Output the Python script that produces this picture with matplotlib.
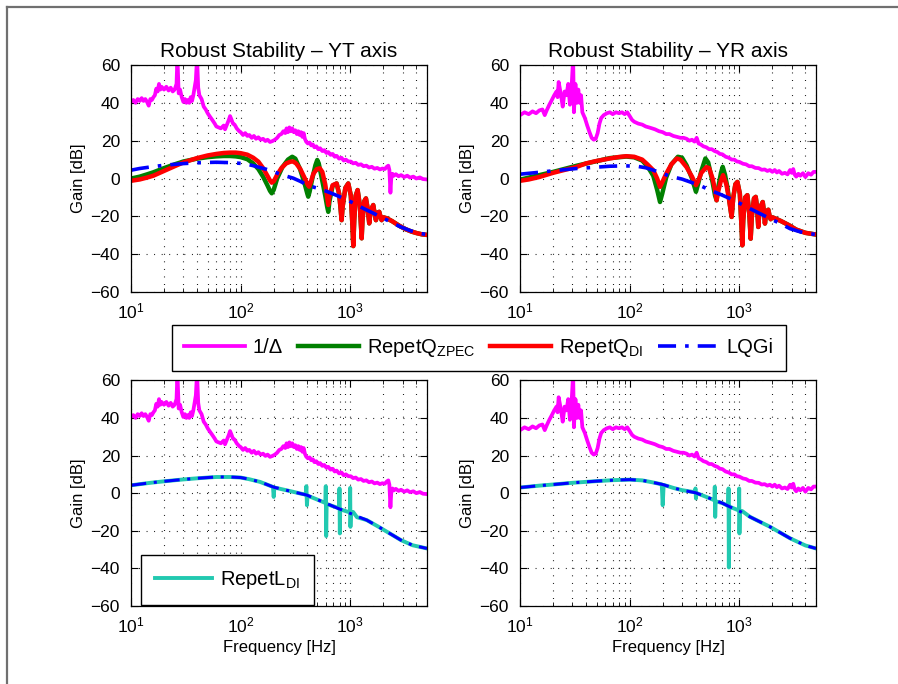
import numpy as np
import matplotlib.pyplot as plt
from matplotlib.lines import Line2D
from matplotlib.ticker import LogLocator, NullFormatter

plt.rcParams['font.family'] = ['Liberation Sans', 'DejaVu Sans']
plt.rcParams['mathtext.fontset'] = 'custom'
plt.rcParams['mathtext.rm'] = 'Liberation Sans'
plt.rcParams['mathtext.it'] = 'Liberation Sans:italic'

# ---- 1/Delta, YT axis ----
yt_delta_f = [10, 10.5, 11, 11.5, 12, 12.5, 13, 13.5, 14, 14.5, 15, 15.5, 16, 16.5, 17, 17.5, 18, 18.5,
              19, 20, 21, 22, 23, 24, 25, 26, 26.5, 27.2, 28, 29, 30, 31, 32, 33, 34, 35, 36, 37, 38,
              39, 40, 41, 42, 44, 46, 48, 50, 52, 55, 58, 60, 63, 66, 70, 72, 75, 78, 80, 82, 85, 88,
              92, 97, 100, 105, 110, 115, 120, 126, 132, 138, 145, 152, 160, 168, 176, 185, 195, 205,
              215, 225, 235, 245, 255, 262, 270, 278, 286, 295, 305, 315, 325, 335, 345, 355, 365, 375,
              385, 395, 410, 425, 440, 455, 470, 490, 510, 530, 555, 580, 605, 630, 660, 690, 720, 750,
              790, 830, 870, 910, 960, 1010, 1060, 1120, 1180, 1250, 1320, 1400, 1480, 1570, 1660, 1760,
              1860, 1960, 2060, 2150, 2220, 2270, 2320, 2360, 2420, 2500, 2600, 2750, 2900, 3100, 3300,
              3500, 3750, 4000, 4300, 4600, 5000]
yt_delta_db = [40.5, 41.5, 40, 42, 41, 42.5, 41, 42, 40.5, 38.5, 42, 41.5, 43, 44, 47.5, 46, 50, 47,
               48.5, 47, 48.5, 46.5, 48, 46, 47, 50, 64, 45, 47, 43, 40.5, 42, 40, 41.5, 40, 43, 41, 44, 48,
               52, 64, 48, 44, 42, 38, 36.5, 34.5, 33, 31, 29, 27.5, 27, 26.5, 28, 26, 28.5, 31, 33, 31.5, 29, 28.5,
               26.5, 25, 24.5, 23, 24, 22.5, 23, 21.5, 22.5, 21, 21.8, 20.5, 21, 19.8, 20.5, 19.3, 19.8, 20.5,
               21.5, 23, 23.5, 25, 24, 26.5, 24.5, 27, 25, 26.5, 24.5, 25.5, 23.5, 25, 23, 24.5, 22, 24,
               21, 19.5, 18.5, 19, 17.5, 18, 16.5, 17, 15.5, 16, 14.5, 15, 13.5, 14, 12.5, 13, 11.5, 12,
               10.5, 11, 9.5, 10, 9, 9, 8, 8.3, 7.2, 7.5, 6.5, 6.8, 5.8, 6.2, 5.2, 5.6,
               4.8, 5.3, 5, 6.2, 6.8, 4.5, -7.5, 0, 2.5, 1.5, 2.3, 1.2, 1.8, 0.8, 1.5,
               0.5, 1, 0, 0.6, -0.3, -0.5]

# ---- 1/Delta, YR axis ----
yr_delta_f = [10, 11, 12, 13, 14, 15, 16, 16.8, 17.5, 18.5, 19.5, 20.5, 21.5, 22, 22.5, 23.5, 24.5,
              25.5, 26.5, 27.5, 28.5, 29.5, 30.5, 31, 32, 33, 34, 35, 36, 37, 39, 41, 43, 45, 47, 49,
              51, 53, 55, 58, 62, 66, 70, 75, 80, 85, 90, 95, 100, 105, 110, 120, 130, 140, 150, 160,
              170, 185, 200, 215, 230, 250, 270, 290, 310, 330, 350, 370, 390, 408, 425, 445, 470, 500,
              530, 560, 595, 630, 665, 700, 750, 800, 850, 900, 950, 1000, 1080, 1150, 1230, 1300, 1400,
              1500, 1600, 1700, 1800, 1900, 2000, 2100, 2200, 2300, 2450, 2600, 2750, 2900, 3000, 3100,
              3200, 3300, 3450, 3600, 3800, 4000, 4250, 4500, 4750, 5000]
yr_delta_db = [33.5, 35, 34, 35.5, 34.5, 36, 36.5, 33.5, 36, 39, 41.5, 44, 46, 43, 51, 45, 38,
               46, 44, 50, 39, 48, 64, 35, 50, 40, 47, 40, 44, 35, 32, 28, 24.5, 21.5, 20.5, 21,
               24, 29, 32, 33.5, 34.5, 35, 34, 35, 34.5, 35, 34, 35, 33, 31, 30, 29, 28.5, 27.5, 27, 26.5,
               26, 25, 24.5, 23.5, 23.5, 22.5, 22, 21.5, 21.5, 21, 20, 20.5, 19.5, 21.5, 18.5, 18, 17, 16.5,
               15.5, 15.5, 14.5, 14, 13, 12.8, 11.5, 11, 10, 10, 9, 8.8, 7.8, 7.5, 6.5, 6.5, 5.6,
               5.5, 4.6, 4.8, 4, 4.5, 3.5, 4.5, 3.2, 4, 2.5, 3, 2.2, 4.5, 3, 5,
               2, 1, 2.5, 1.5, 2.8, 0.8, 2.8, 2, 3.5, 3.5]

# ---- RepetQ_ZPEC / RepetQ_DI / LQGi, YT axis ----
yt_di_f = [10, 12, 14, 16, 20, 25, 30, 40, 50, 60, 70, 80, 90, 100, 115, 130, 145, 160, 175, 185,
           192, 200, 215, 235, 260, 285, 301, 320, 350, 385, 410, 421, 435, 460, 495, 527, 555, 590,
           615, 629, 645, 690, 750, 790, 815, 832, 850, 900, 957, 1010, 1045, 1064, 1085, 1120, 1165,
           1220, 1250, 1268, 1290, 1340, 1387, 1440, 1487, 1530, 1617, 1670, 1711, 1770, 1835, 1890,
           1928, 2000, 2144, 2400, 2800, 3200, 3600, 4000, 4500, 5000]
yt_di_db = [-1.2, -0.5, 0.5, 1.5, 4, 6.5, 8.5, 10.8, 12.2, 13, 13.5, 13.7, 13.7, 13.4, 12.6, 11, 8.9,
            5.5, 1.5, -1, -2.2, -1.5, 2, 5.5, 8, 8.9, 9, 8, 5, 0, -3.5, -4.3, -2, 2.5, 5, 5.4, 3.5,
            -3, -10, -14, -9, -3.5, -2.6, -8, -16, -22, -15, -5, -2.6, -9, -25, -35.7, -22, -9, -6.1,
            -14, -25, -31.6, -22, -12, -10.5, -16, -23.7, -17, -14, -19, -22, -18, -17.6, -20.5,
            -22, -20.5, -21, -22.5, -25, -26.8, -28, -28.8, -29.5, -29.8]
yt_zpec_f = [10, 12, 14, 16, 20, 25, 30, 40, 50, 60, 70, 80, 90, 100, 115, 130, 145, 160, 175, 185,
             192, 200, 215, 240, 270, 295, 315, 345, 380, 405, 413, 425, 450, 480, 499, 515, 545, 590,
             615, 629, 645, 690, 750]
yt_zpec_db = [0, 1, 2.2, 3.3, 5.5, 7.5, 9, 10.5, 11.3, 11.7, 11.9, 11.9, 11.7, 11.3, 10.2, 8, 5, 1,
              -3.5, -6.5, -7.8, -6, 0, 6, 10, 11.5, 10.5, 5.5, -2, -8, -9.6, -7, 0, 7, 9.8, 8, 1, -9,
              -15, -17.6, -12, -3.8, -2.6]
yt_lqg_f = [10, 12, 15, 20, 30, 40, 50, 60, 80, 100, 115, 130, 150, 173, 200, 230, 263, 301, 350, 400,
            460, 527, 608, 700, 800, 925, 1100, 1315, 1617, 2000, 2400, 2830, 3490, 4315, 5000]
yt_lqg_db = [4.4, 5.3, 6.1, 7, 7.9, 8.3, 8.5, 8.6, 8.4, 8, 7.5, 6.8, 5.8, 4.8, 3.6, 2.3, 1.2, 0.2,
             -1.5, -3.3, -4.5, -5.5, -6.8, -8.2, -9.6, -11.3, -13.3, -15.8, -18.3, -21, -23.3, -25.4,
             -27.5, -29, -29.6]

# ---- RepetQ_ZPEC / RepetQ_DI / LQGi, YR axis ----
yr_di_f = [10, 12, 15, 20, 33, 40, 50, 66, 80, 93, 110, 130, 145, 164, 178, 189, 198, 215, 240, 269,
           290, 330, 370, 402, 420, 450, 500, 530, 570, 600, 620, 640, 680, 710, 760, 800, 850, 880,
           920, 960, 1010, 1045, 1064, 1085, 1130, 1183, 1230, 1268, 1300, 1360, 1409, 1450, 1487,
           1530, 1633, 1680, 1711, 1760, 1837, 1890, 1928, 2000, 2144, 2400, 2800, 3300, 4000, 5000]
yr_di_db = [-1.2, -0.5, 0.8, 3, 6.2, 8, 9.3, 10.6, 11.4, 11.8, 11.5, 10, 7.5, 4.4, 0, -4.4, -2, 2.5,
            7.5, 10.6, 10, 6, 1, -3.5, -1.5, 3, 6, 5.5, 0, -6, -11.5, -7, -1, 1.8, -3, -10, -20.3,
            -10, -3, -1.8, -8, -25, -35.3, -22, -10, -8.8, -18, -31.8, -20, -10.5, -9.7, -15, -25.6,
            -16, -12.4, -18, -23.8, -17.4, -16.5, -20, -21.5, -20.5, -21.2, -22.5, -24.5, -27, -28.7,
            -29.6]
yr_zpec_f = [10, 20, 33, 66, 93, 110, 130, 145, 164, 178, 189, 198, 215, 240, 275, 300, 330, 370, 402,
             420, 450, 490, 520, 570, 600, 620, 640, 680, 705, 740, 780, 850]
yr_zpec_db = [-0.6, 3.5, 6.8, 10.8, 11.6, 11.2, 9.5, 6.5, 1.5, -6, -12.4, -8, 0.5, 7.5, 11.5, 11, 7,
              0, -7, -3, 4, 10.6, 8.5, -2, -9, -11.5, -5, 3, 6.2, 2, -5, -20.3]
yr_lqg_f = [10, 16.3, 20, 33, 50, 66, 90, 116, 140, 164, 200, 233, 300, 355, 450, 541, 680, 822, 1000,
            1250, 1550, 1905, 2400, 2900, 3600, 4300, 5000]
yr_lqg_db = [2.3, 3.5, 4.1, 5.3, 6, 6.5, 6.7, 6.5, 5.7, 4.4, 2.7, 1.2, -0.3, -1.8, -4, -6.2, -8.5,
             -10.6, -13, -15.9, -18.6, -21.2, -24, -26.5, -28.2, -29.2, -29.5]

# ---- RepetL_DI / LQGi, lower row ----
bl_lqg_f = [10, 15, 20, 30, 40, 50, 60, 80, 100, 120, 150, 175, 200, 250, 302, 350, 400, 480, 608,
            750, 925, 1100, 1409, 1800, 2300, 2900, 3700, 5000]
bl_lqg_db = [4.2, 5.5, 6.3, 7.3, 7.9, 8.3, 8.6, 8.6, 8.3, 7.4, 6, 4.5, 3.2, 1.8, 0.7, -0.2, -1, -3,
             -5.5, -7.8, -9.9, -11.8, -14.3, -17.8, -21.5, -25, -27.7, -29.4]
bl_rl_f = [10, 15, 20, 30, 40, 50, 60, 80, 100, 120, 150, 175, 197, 200, 203, 250, 302, 350, 392, 397,
           402, 407, 480, 592, 597, 602, 608, 700, 790, 796, 802, 808, 925, 990, 996, 1002, 1010,
           1060, 1150, 1409, 1800, 2300, 2900, 3700, 5000]
bl_rl_db = [4.2, 5.5, 6.3, 7.3, 7.9, 8.3, 8.6, 8.6, 8.3, 7.4, 6, 4.5, 3.3, -2, 3, 1.8, 0.7, -0.2, -0.8,
            3.7, -6.4, -1.3, -3, -5.2, 3.7, -22.8, -5.8, -7, -8, 2.5, -21.4, -8.6, -9.7, -10.2, 2.8,
            -17.9, -10.8, -10, -12.8, -14.3, -17.8, -21.5, -25, -27.7, -29.4]

br_lqg_f = [10, 15, 20, 30, 50, 70, 100, 130, 160, 200, 250, 300, 400, 541, 700, 822, 1000, 1250,
            1905, 2900, 4000, 5000]
br_lqg_db = [3, 4, 4.6, 5.5, 6.4, 6.9, 7.2, 6.8, 5.8, 4.6, 2.8, 1.6, 0.2, -2.8, -5.3, -7.3, -9.5,
             -12.6, -17.9, -24, -27.8, -29.4]
br_rl_f = [10, 15, 20, 30, 50, 70, 100, 130, 160, 196, 200, 204, 250, 300, 394, 398, 402, 406, 541,
           592, 597, 602, 608, 700, 792, 797, 802, 808, 822, 990, 996, 1002, 1010, 1060, 1250, 1905,
           2900, 4000, 5000]
br_rl_db = [3, 4, 4.6, 5.5, 6.4, 6.9, 7.2, 6.8, 5.8, 4.7, -6.4, 4.4, 2.8, 1.6, 0.5, 2.5, -2.8, 0.1,
            -2.8, -3.8, 3.4, -12.6, -4.3, -5.3, -6.8, 2.5, -39.5, -7, -7.3, -9.2, 2.5, -21.4, -9.8,
            -9.5, -12.6, -17.9, -24, -27.8, -29.4]

MAG = '#ff00ff'
GRN = '#008000'
RED = '#ff0000'
BLU = '#0000ff'
CYN = '#22c9b0'
DASHDOT = (0, (5, 2.5, 1, 2.5))

fig = plt.figure(figsize=(8.98, 6.84), dpi=100)

# panel rectangles [left, bottom, width, height] in figure fractions
rects = [[0.1459, 0.573, 0.3296, 0.332], [0.5791, 0.573, 0.3296, 0.332],
         [0.1459, 0.114, 0.3296, 0.330], [0.5791, 0.114, 0.3296, 0.330]]
axs = [fig.add_axes(r) for r in rects]


def style(ax):
    ax.set_xscale('log')
    ax.set_xlim(10, 5000)
    ax.set_ylim(-60, 60)
    ax.set_yticks(np.arange(-60, 61, 20))
    ax.set_yticklabels([('\u2212%d' % -v) if v < 0 else str(v) for v in range(-60, 61, 20)])
    ax.xaxis.set_minor_locator(LogLocator(base=10, subs=np.arange(2, 10), numticks=20))
    ax.xaxis.set_minor_formatter(NullFormatter())
    ax.tick_params(which='both', direction='in', top=True, right=True, labelsize=12.5)
    ax.tick_params(axis='y', pad=8)
    ax.tick_params(axis='x', pad=7)
    ax.tick_params(which='major', length=5)
    ax.tick_params(which='minor', length=3)
    ax.grid(True, which='major', axis='both', color='k', lw=0.8, linestyle=(0, (0.8, 6)))
    ax.grid(True, which='minor', axis='x', color='k', lw=0.8, linestyle=(0, (0.8, 6)))
    for s in ax.spines.values():
        s.set_linewidth(0.9)
    ax.set_ylabel('Gain [dB]', fontsize=12, labelpad=3)


for ax in axs:
    style(ax)

# top row: robust stability with repetitive controllers
top = [(axs[0], yt_delta_f, yt_delta_db, yt_zpec_f, yt_zpec_db, yt_di_f, yt_di_db, yt_lqg_f, yt_lqg_db),
       (axs[1], yr_delta_f, yr_delta_db, yr_zpec_f, yr_zpec_db, yr_di_f, yr_di_db, yr_lqg_f, yr_lqg_db)]
for ax, df, dd, zf, zd, rf, rd, lf, ld in top:
    # ZPEC follows the DI curve beyond the last listed point
    zf2 = list(zf) + [f for f in rf if f > zf[-1]]
    zd2 = list(zd) + [d for f, d in zip(rf, rd) if f > zf[-1]]
    h1, = ax.plot(df, dd, color=MAG, lw=2.7, label='1/\u0394')
    h2, = ax.plot(zf2, zd2, color=GRN, lw=3.2, label='RepetQ$_{\\mathrm{ZPEC}}$')
    h3, = ax.plot(rf, rd, color=RED, lw=3.2, label='RepetQ$_{\\mathrm{DI}}$')
    h4, = ax.plot(lf, ld, color=BLU, lw=2.6, linestyle=DASHDOT, label='LQGi')

axs[0].set_title('Robust Stability \u2013 YT axis', fontsize=15, pad=6)
axs[1].set_title('Robust Stability \u2013 YR axis', fontsize=15, pad=6)

# bottom row: repetitive loop-shaping controller
bottom = [(axs[2], yt_delta_f, yt_delta_db, bl_rl_f, bl_rl_db, bl_lqg_f, bl_lqg_db),
          (axs[3], yr_delta_f, yr_delta_db, br_rl_f, br_rl_db, br_lqg_f, br_lqg_db)]
for ax, df, dd, rf, rd, lf, ld in bottom:
    ax.plot(df, dd, color=MAG, lw=2.7)
    h5, = ax.plot(rf, rd, color=CYN, lw=2.8, label='RepetL$_{\\mathrm{DI}}$')
    ax.plot(lf, ld, color=BLU, lw=2.2, linestyle=DASHDOT)
    ax.set_xlabel('Frequency [Hz]', fontsize=12, labelpad=3)

leg = fig.legend([h1, h2, h3, h4], [h.get_label() for h in (h1, h2, h3, h4)],
                 loc='center', bbox_to_anchor=(0.5334, 0.491), ncol=4, fontsize=14.5,
                 handlelength=3.0, columnspacing=0.75, handletextpad=0.4, borderpad=0.6,
                 borderaxespad=0, fancybox=False, framealpha=1, edgecolor='k')
leg.get_frame().set_linewidth(1.0)

leg2 = axs[2].legend([h5], [h5.get_label()], loc='lower left', bbox_to_anchor=(0.035, 0.003),
                     fontsize=14.5, handlelength=2.8, handletextpad=0.4, borderpad=0.7,
                     borderaxespad=0, fancybox=False, framealpha=1, edgecolor='k')
leg2.get_frame().set_linewidth(1.0)

# outer gray frame
fig.add_artist(Line2D([7 / 898, 1.0], [1 - 7 / 684, 1 - 7 / 684], color='#707070', lw=1.6,
                      transform=fig.transFigure))
fig.add_artist(Line2D([7 / 898, 7 / 898], [0.0, 1 - 7 / 684], color='#707070', lw=1.6,
                      transform=fig.transFigure))

fig.savefig('out.png', dpi=100)
